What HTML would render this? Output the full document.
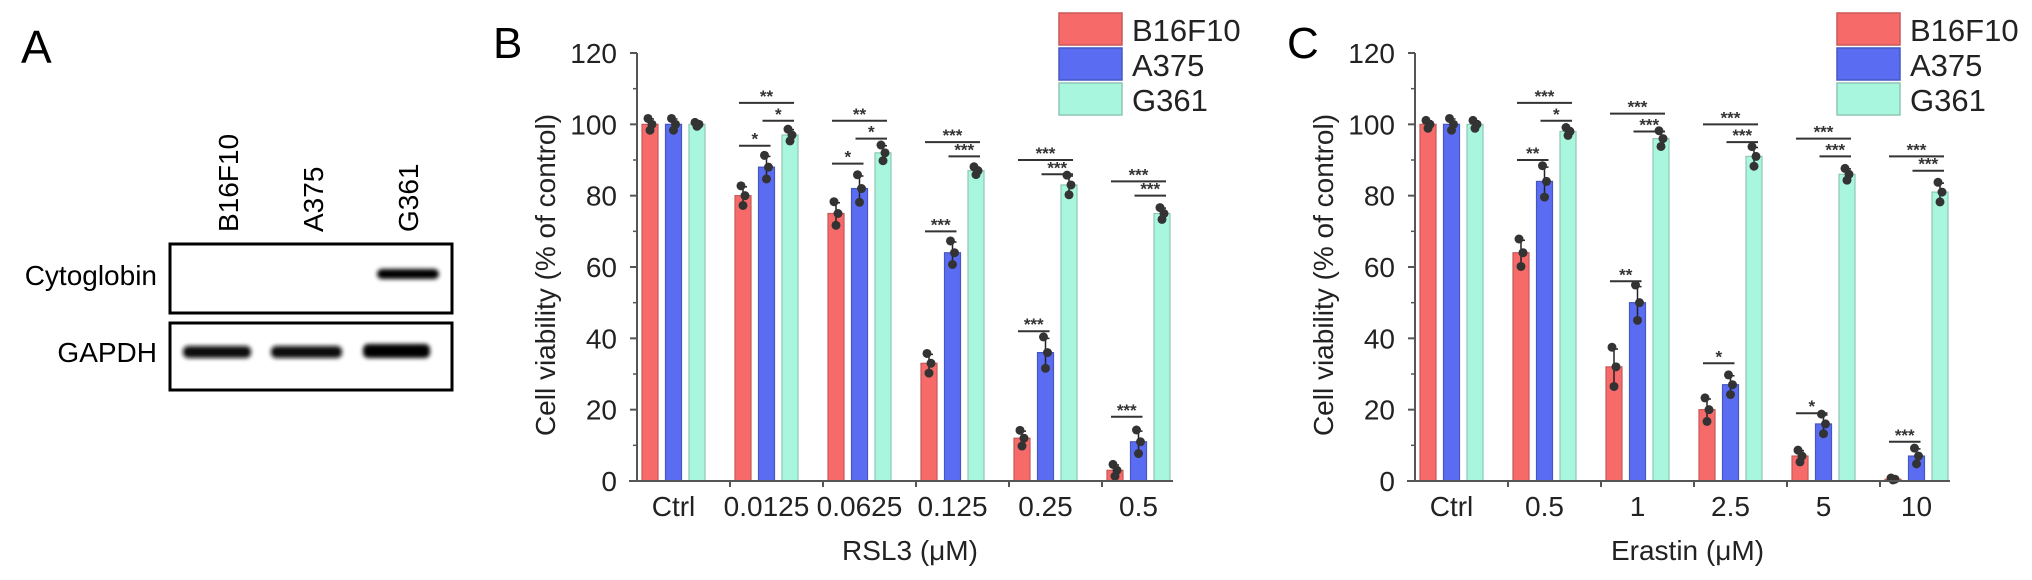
<!DOCTYPE html>
<html><head><meta charset="utf-8">
<style>
html,body{margin:0;padding:0;background:#fff;}
svg{display:block;font-family:"Liberation Sans",Arial,sans-serif;}
</style></head>
<body>
<svg id="fig" width="2032" height="580" viewBox="0 0 2032 580" xmlns="http://www.w3.org/2000/svg">
  <defs>
    <filter id="blur" x="-20%" y="-100%" width="140%" height="300%"><feGaussianBlur stdDeviation="2.2"/></filter>
  </defs>
  <!-- Panel A -->
  <g>
    <text x="21" y="63" font-size="46">A</text>
    <text transform="translate(238,232) rotate(-90)" font-size="28">B16F10</text>
    <text transform="translate(323,232) rotate(-90)" font-size="28">A375</text>
    <text transform="translate(418,232) rotate(-90)" font-size="28">G361</text>
    <text x="157" y="285" font-size="28" text-anchor="end">Cytoglobin</text>
    <text x="157" y="362" font-size="28" text-anchor="end">GAPDH</text>
    <rect x="170" y="244" width="282" height="69" fill="#fff" stroke="#000" stroke-width="3"/>
    <rect x="170" y="323" width="282" height="67" fill="#fff" stroke="#000" stroke-width="3"/>
    <rect x="377" y="269" width="62" height="10" rx="5" fill="#000" filter="url(#blur)"/>
    <rect x="183" y="346" width="68" height="12" rx="5" fill="#111" filter="url(#blur)"/>
    <rect x="271" y="346" width="71" height="12" rx="5" fill="#111" filter="url(#blur)"/>
    <rect x="363" y="344" width="67" height="14" rx="5" fill="#000" filter="url(#blur)"/>
  </g>
  <g id="panelB"></g>
  <g id="panelC"></g>
</svg>
<script>
// ---- data ----
const seriesNames = ["B16F10", "A375", "G361"];
const bCategories = ["Ctrl", "0.0125", "0.0625", "0.125", "0.25", "0.5"];
const bB16F10 = [100, 80, 75, 33, 12, 3];
const bA375 = [100, 88, 82, 64, 36, 11];
const bG361 = [100, 97, 92, 87, 83, 75];
const bB16F10Sd = [1.5, 2.5, 3, 2.5, 2, 1.5];
const bA375Sd = [1.5, 3, 3.5, 3, 4, 3];
const bG361Sd = [0.5, 1.5, 2, 1, 2.5, 1.5];
// brackets: [group, fromSeries, toSeries, label, yValue]
const bBrackets = [
  [1,0,2,"**",106],[1,1,2,"*",101],[1,0,1,"*",94],
  [2,0,2,"**",101],[2,1,2,"*",96],[2,0,1,"*",89],
  [3,0,2,"***",95],[3,1,2,"***",91],[3,0,1,"***",70],
  [4,0,2,"***",90],[4,1,2,"***",86],[4,0,1,"***",42],
  [5,0,2,"***",84],[5,1,2,"***",80],[5,0,1,"***",18]
];
const cCategories = ["Ctrl", "0.5", "1", "2.5", "5", "10"];
const cB16F10 = [100, 64, 32, 20, 7, 0.5];
const cA375 = [100, 84, 50, 27, 16, 7];
const cG361 = [100, 98, 96, 91, 86, 81];
const cB16F10Sd = [1, 3.5, 5, 3, 1.5, 0.3];
const cA375Sd = [1.5, 4, 4.5, 2.5, 2.5, 2];
const cG361Sd = [1, 1, 2, 2.5, 1.5, 2.5];
const cBrackets = [
  [1,0,2,"***",106],[1,1,2,"*",101],[1,0,1,"**",90],
  [2,0,2,"***",103],[2,1,2,"***",98],[2,0,1,"**",56],
  [3,0,2,"***",100],[3,1,2,"***",95],[3,0,1,"*",33],
  [4,0,2,"***",96],[4,1,2,"***",91],[4,0,1,"*",19],
  [5,0,2,"***",91],[5,1,2,"***",87],[5,0,1,"***",11]
];
const yTicks = [0, 20, 40, 60, 80, 100, 120];

const NS = "http://www.w3.org/2000/svg";
const fills = ["#f66b6a", "#5a6cf2", "#a9f6df"];
const strokes = ["#c85858", "#4656c0", "#8fc6b5"];
function mk(tag, attrs, parent, txt){
  const e = document.createElementNS(NS, tag);
  for (const k in attrs) e.setAttribute(k, attrs[k]);
  if (txt !== undefined) e.textContent = txt;
  parent.appendChild(e);
  return e;
}

function drawChart(g, cfg){
  const x0 = cfg.x0, x1 = cfg.x1, y0 = 481, yTop = 53;
  const y = v => y0 - (v / 120) * (y0 - yTop);
  const groupW = 93, barW = 16, pitch = 23.5;
  const barX = (gi, si) => x0 + 5 + gi * groupW + si * pitch;
  const barC = (gi, si) => barX(gi, si) + barW / 2;

  const letter = mk("text", {x: cfg.letterX, y: 58, "font-size": 44}, g, cfg.letter);
  
  

  // bars
  cfg.series.forEach((vals, si) => {
    vals.forEach((v, gi) => {
      const r = mk("rect", {x: barX(gi, si), y: y(v), width: barW, height: y0 - y(v), fill: fills[si], stroke: strokes[si], "stroke-width": 1.2}, g);
      
      
    });
  });
  // error bars and points
  cfg.series.forEach((vals, si) => {
    vals.forEach((v, gi) => {
      const sd = cfg.sds[si][gi], cx = barC(gi, si);
      const eb = mk("path", {d: `M${cx},${y(v+sd)}V${y(v-sd)}M${cx-4},${y(v+sd)}H${cx+4}M${cx-4},${y(v-sd)}H${cx+4}`, stroke: "#222", "stroke-width": 1.5, fill: "none"}, g);
      
      
      [[v + sd * 1.1, -1], [v, 1], [v - sd * 1.1, 0]].forEach(p => {
        const d = mk("circle", {cx: cx + p[1] * 2, cy: y(Math.max(p[0], 0.3)), r: 4.5, fill: "#333"}, g);
        
        
      });
    });
  });
  // axes
  const ya = mk("line", {x1: x0, y1: y0, x2: x0, y2: yTop, stroke: "#555", "stroke-width": 2}, g);
  
  
  const xa = mk("line", {x1: x0 - 8, y1: y0, x2: x1, y2: y0, stroke: "#555", "stroke-width": 2}, g);
  
  
  yTicks.forEach(t => {
    mk("line", {x1: x0 - 7, y1: y(t), x2: x0, y2: y(t), stroke: "#555", "stroke-width": 2}, g);
    if (t < 120) mk("line", {x1: x0 - 4, y1: y(t + 10), x2: x0, y2: y(t + 10), stroke: "#555", "stroke-width": 1.5}, g);
    const tl = mk("text", {x: x0 - 20, y: y(t) + 10, "font-size": 28, "text-anchor": "end", fill: "#222"}, g, String(t));
    
    
  });
  cfg.categories.forEach((c, gi) => {
    if (gi > 0) mk("line", {x1: x0 + gi * groupW, y1: y0, x2: x0 + gi * groupW, y2: y0 + 6, stroke: "#555", "stroke-width": 2}, g);
    const cl = mk("text", {x: barC(gi, 1), y: y0 + 35, "font-size": 28, "text-anchor": "middle", fill: "#222"}, g, c);
    
    
  });
  const yt = mk("text", {transform: `translate(${x0 - 82},${(y0 + yTop) / 2 + 8}) rotate(-90)`, "font-size": 28, "text-anchor": "middle", fill: "#222"}, g, "Cell viability (% of control)");
  
  
  const xt = mk("text", {x: (x0 + x1) / 2 + 5, y: 560, "font-size": 28, "text-anchor": "middle", fill: "#222"}, g, cfg.xTitle);
  
  

  // significance brackets
  cfg.brackets.forEach(b => {
    const xa1 = barC(b[0], b[1]) - 4, xa2 = barC(b[0], b[2]) + 4, yy = y(b[4]);
    const ln = mk("line", {x1: xa1, y1: yy, x2: xa2, y2: yy, stroke: "#333", "stroke-width": 2}, g);
    
    
    const st = mk("text", {x: (xa1 + xa2) / 2, y: yy - 1, "font-size": 17, "font-weight": "bold", "text-anchor": "middle", fill: "#333"}, g, b[3]);
    
    
  });

  // legend
  seriesNames.forEach((n, si) => {
    const ly = 13 + si * 35;
    const lr = mk("rect", {x: cfg.legendX, y: ly, width: 63, height: 32, fill: fills[si], stroke: strokes[si], "stroke-width": 1.5}, g);
    
    
    const lt = mk("text", {x: cfg.legendX + 73, y: ly + 28, "font-size": 31, fill: "#222"}, g, n);
    
    
  });
}

drawChart(document.getElementById("panelB"), {
  x0: 637, x1: 1173, letter: "B", letterX: 493, xTitle: "RSL3 (\u03bcM)", legendX: 1059,
  categories: bCategories, series: [bB16F10, bA375, bG361], sds: [bB16F10Sd, bA375Sd, bG361Sd], brackets: bBrackets
});
drawChart(document.getElementById("panelC"), {
  x0: 1415, x1: 1950, letter: "C", letterX: 1287, xTitle: "Erastin (\u03bcM)", legendX: 1837,
  categories: cCategories, series: [cB16F10, cA375, cG361], sds: [cB16F10Sd, cA375Sd, cG361Sd], brackets: cBrackets
});
</script>
</body></html>
